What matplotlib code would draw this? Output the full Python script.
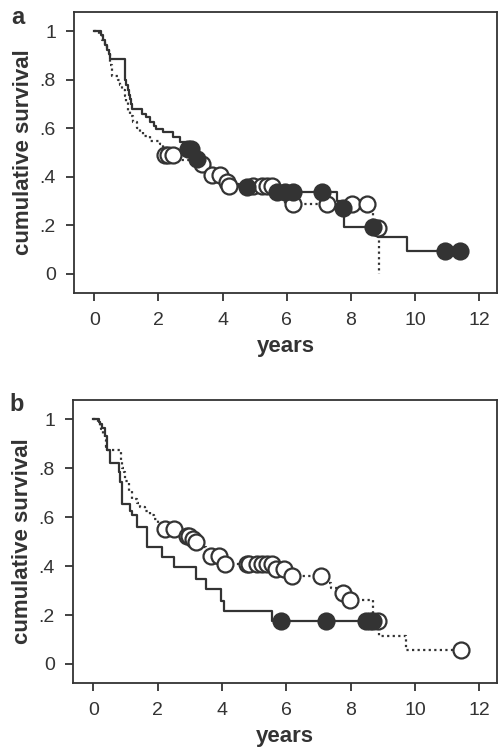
import numpy as np
import matplotlib
matplotlib.use("Agg")
import matplotlib.pyplot as plt

plt.rcParams["font.family"] = ["Liberation Sans", "DejaVu Sans"]

INK = "#333333"

# panel a - solid group (filled circles = censored)
a_solid_t = [0, 0.2, 0.28, 0.35, 0.4, 0.45, 0.49, 0.96, 1.0, 1.04, 1.08, 1.12, 1.15,
             1.17, 1.48, 1.6, 1.74, 1.85, 1.94, 2.15, 2.46, 2.67, 2.85, 3.1, 3.3,
             3.6, 3.9, 4.1, 4.5, 5.6, 7.56, 7.7, 7.78, 8.85, 9.74]
a_solid_s = [1.0, .985, .965, .945, .925, .905, .885, .80, .78, .76, .74, .72, .70,
             .68, .658, .646, .625, .61, .597, .584, .564, .543, .514, .473, .45,
             .42, .39, .37, .357, .337, .30, .271, .193, .151, .096]
a_solid_end = 11.4
a_solid_cens = [2.93, 3.0, 3.19, 4.75, 5.69, 5.94, 6.2, 7.09, 7.74, 8.69, 10.93, 11.4]

# panel a - dotted group (open circles = censored)
a_dot_t = [0, 0.15, 0.25, 0.33, 0.4, 0.45, 0.49, 0.5, 0.54, 0.74, 0.8, 0.88, 0.96,
           1.0, 1.05, 1.11, 1.2, 1.32, 1.42, 1.52, 1.74, 2.05, 2.15, 2.7, 3.0,
           3.45, 3.55, 4.0, 4.1, 4.18, 5.95, 8.7, 8.87]
a_dot_s = [1.0, .985, .965, .945, .925, .905, .885, .86, .816, .80, .78, .76, .734,
           .71, .672, .651, .625, .60, .585, .57, .55, .535, .49, .47, .453,
           .43, .41, .39, .378, .363, .288, .19, 0.0]
a_dot_end = 8.87
a_dot_cens = [2.2, 2.3, 2.45, 3.35, 3.66, 3.92, 4.13, 4.2, 4.95, 5.22, 5.38, 5.54,
              6.2, 7.24, 8.02, 8.49, 8.83]

# panel b - solid group
b_solid_t = [0, 0.17, 0.22, 0.27, 0.35, 0.43, 0.53, 0.79, 0.84, 0.89, 1.15, 1.2,
             1.36, 1.67, 2.14, 2.5, 3.18, 3.49, 3.96, 4.05, 5.57]
b_solid_s = [1.0, .99, .983, .963, .934, .873, .82, .784, .743, .656, .627, .607,
             .559, .477, .436, .395, .348, .307, .258, .217, .176]
b_solid_end = 8.69
b_solid_cens = [5.83, 7.23, 8.48, 8.6, 8.69]

# panel b - dotted group
b_dot_t = [0, 0.15, 0.2, 0.25, 0.3, 0.35, 0.4, 0.43, 0.85, 0.9, 0.95, 1.0, 1.1,
           1.2, 1.36, 1.46, 1.6, 1.75, 1.88, 2.0, 2.15, 2.7, 2.9, 3.05, 3.15, 3.3,
           3.5, 3.6, 4.0, 4.1, 5.62, 6.0, 7.2, 7.4, 7.7, 7.9, 8.7, 8.87, 9.73]
b_dot_s = [1.0, .99, .975, .96, .94, .915, .886, .873, .832, .80, .784, .75, .709,
           .676, .66, .64, .627, .61, .594, .575, .553, .54, .525, .51, .497, .48,
           .46, .443, .425, .409, .39, .36, .33, .31, .292, .262, .176, .115, .056]
b_dot_end = 11.42
b_dot_cens = [2.24, 2.5, 2.92, 2.97, 3.1, 3.18, 3.65, 3.9, 4.11, 4.79, 4.83, 5.1,
              5.26, 5.41, 5.57, 5.67, 5.93, 6.19, 7.08, 7.75, 7.98, 8.84, 11.42]

xticks = [0, 2, 4, 6, 8, 10, 12]
yticks = [0, 0.2, 0.4, 0.6, 0.8, 1.0]
ylabels = ["0", ".2", ".4", ".6", ".8", "1"]


def km(ax, t, s, end, cens, ls, filled):
    t = np.asarray(t)
    s = np.asarray(s)
    tt = np.append(t, end)
    ss = np.append(s, s[-1])
    ax.step(tt, ss, where="post", color=INK, lw=1.6, ls=ls, zorder=2)
    c = np.asarray(cens)
    cy = s[np.searchsorted(t, c, side="right") - 1]
    ax.plot(c, cy, "o", ms=11.5, mew=1.6, mec=INK,
            mfc=INK if filled else "white", ls="none", zorder=4 if filled else 3)


def style(ax, letter):
    ax.set_xlim(-0.63, 12.55)
    ax.set_ylim(-0.078, 1.08)
    ax.set_xticks(xticks)
    ax.set_yticks(yticks)
    ax.set_yticklabels(ylabels)
    for sp in ax.spines.values():
        sp.set_color(INK)
        sp.set_linewidth(1.3)
    ax.tick_params(colors=INK, labelcolor=INK, labelsize=14, length=6, width=1.3)
    ax.tick_params(axis="x", pad=8)
    ax.tick_params(axis="y", pad=7)
    ax.set_xlabel("years", fontsize=16, fontweight="bold", color=INK, labelpad=5)
    ax.set_ylabel("cumulative survival", fontsize=16, fontweight="bold", color=INK,
                  labelpad=4)
    ax.text(-0.116, 0.982, letter, transform=ax.transAxes, fontsize=17,
            fontweight="bold", color=INK, ha="right", va="center")


fig = plt.figure(figsize=(5.0, 7.53), dpi=100)
ax1 = fig.add_axes([0.148, 0.611, 0.846, 0.373])
ax2 = fig.add_axes([0.146, 0.093, 0.848, 0.376])

km(ax1, a_solid_t, a_solid_s, a_solid_end, a_solid_cens, "-", True)
km(ax1, a_dot_t, a_dot_s, a_dot_end, a_dot_cens, (0, (1, 1.5)), False)
km(ax2, b_solid_t, b_solid_s, b_solid_end, b_solid_cens, "-", True)
km(ax2, b_dot_t, b_dot_s, b_dot_end, b_dot_cens, (0, (1, 1.5)), False)

style(ax1, "a")
style(ax2, "b")

fig.savefig("out.png", dpi=100)
